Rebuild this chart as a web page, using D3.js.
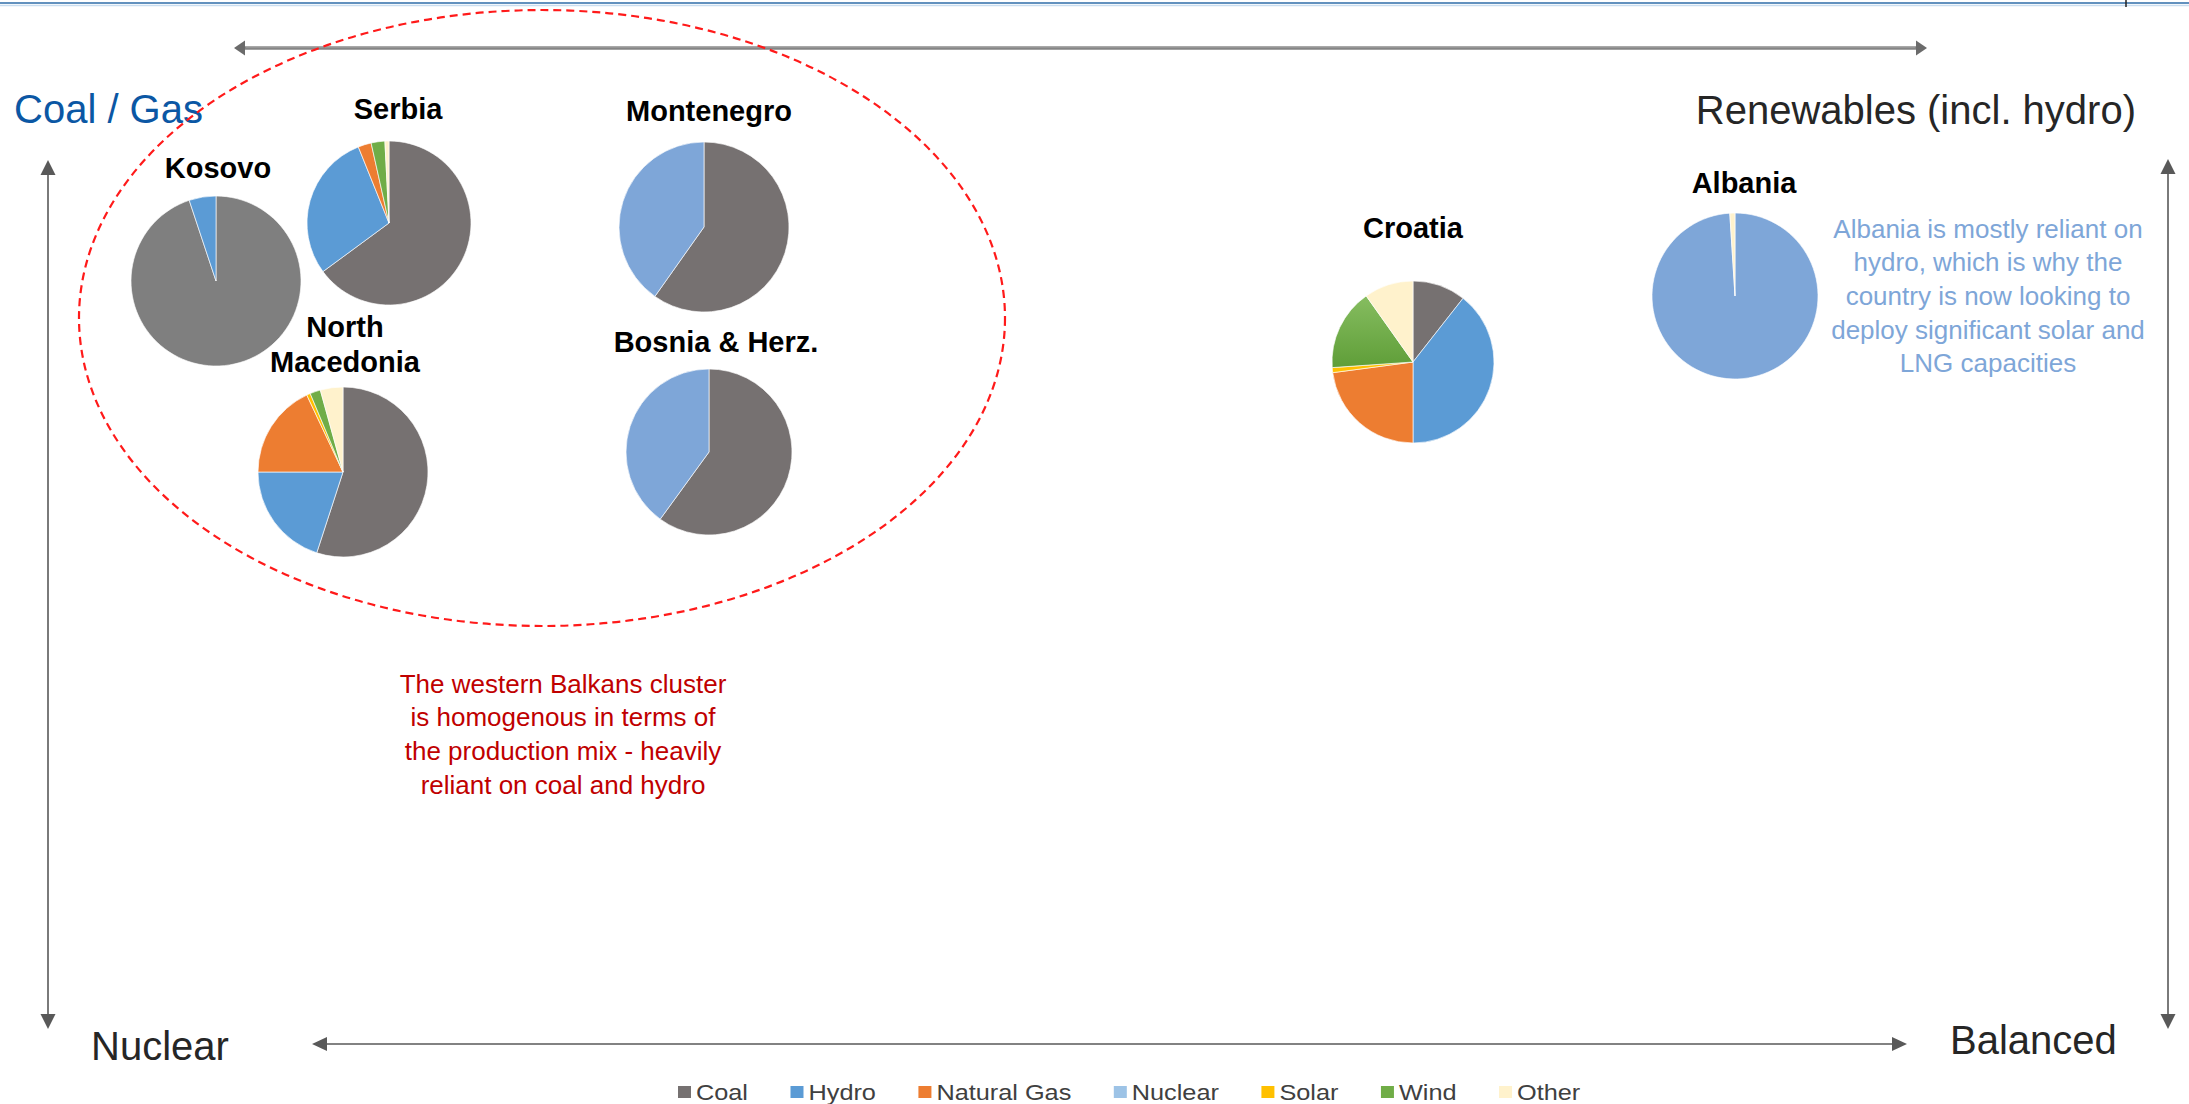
<!DOCTYPE html>
<html>
<head>
<meta charset="utf-8">
<title>Western Balkans power production mix</title>
<script src="https://cdn.jsdelivr.net/npm/d3@7"></script>
<style>
  html, body { margin: 0; padding: 0; background: #ffffff; }
  svg { display: block; }
  text { font-family: "Liberation Sans", Arial, Helvetica, sans-serif; }
</style>
</head>
<body>
<svg id="chart" width="2189" height="1104"></svg>
<script>
// ---- Data: production mix shares (%) by fuel, one array per country ----
const fuels = ["Coal", "Hydro", "Natural Gas", "Nuclear", "Solar", "Wind", "Other"];
const countries = ["Kosovo", "Serbia", "North Macedonia", "Montenegro", "Bosnia & Herz.", "Croatia", "Albania"];

const kosovoMix     = [94.9,  5.1,  0,   0, 0,   0,    0  ];
const serbiaMix     = [64.9, 29.0,  2.6, 0, 0,   2.7,  0.8];
const macedoniaMix  = [55.0, 20.0, 18.0, 0, 0.7, 2.0,  4.3];
const montenegroMix = [59.8, 40.2,  0,   0, 0,   0,    0  ];
const bosniaMix     = [60.0, 40.0,  0,   0, 0,   0,    0  ];
const croatiaMix    = [10.6, 39.4, 22.9, 0, 1.0, 16.3, 9.8];
const albaniaMix    = [ 0,   99.0,  0,   0, 0,   0,    1.0];

const mixes = [kosovoMix, serbiaMix, macedoniaMix, montenegroMix, bosniaMix, croatiaMix, albaniaMix];

// ---- Annotation texts ----
const clusterNote = [
  "The western Balkans cluster",
  "is homogenous in terms of",
  "the production mix - heavily",
  "reliant on coal and hydro"
];
const albaniaNote = [
  "Albania is mostly reliant on",
  "hydro, which is why the",
  "country is now looking to",
  "deploy significant solar and",
  "LNG capacities"
];

// ---- Layout and styling ----
const W = 2189, H = 1104;
const svg = d3.select("#chart");

const fuelColor = d3.scaleOrdinal()
  .domain(fuels)
  .range(["#767171", "#5b9bd5", "#ed7d31", "#9dc3e6", "#ffc000", "#70ad47", "#fff2cc"]);

// shade tweaks used on some of the pies
const shadeOverride = {
  "Kosovo": { "Coal": "#7f7f7f" },
  "Montenegro": { "Hydro": "#7ea6d8" },
  "Bosnia & Herz.": { "Hydro": "#7ea6d8" },
  "Albania": { "Hydro": "#7ea6d8" },
  "Croatia": { "Wind": "url(#windGrad)" }
};

// pie centres / radii and title placement (px)
const pieLayout = {
  "Kosovo":          { cx: 216,  cy: 281, r: 85, title: ["Kosovo"],             tx: 218,  ty: 178 },
  "Serbia":          { cx: 389,  cy: 223, r: 82, title: ["Serbia"],             tx: 398,  ty: 119 },
  "North Macedonia": { cx: 343,  cy: 472, r: 85, title: ["North", "Macedonia"], tx: 345,  ty: 337 },
  "Montenegro":      { cx: 704,  cy: 227, r: 85, title: ["Montenegro"],         tx: 709,  ty: 121 },
  "Bosnia & Herz.":  { cx: 709,  cy: 452, r: 83, title: ["Bosnia & Herz."],     tx: 716,  ty: 352 },
  "Croatia":         { cx: 1413, cy: 362, r: 81, title: ["Croatia"],            tx: 1413, ty: 238 },
  "Albania":         { cx: 1735, cy: 296, r: 83, title: ["Albania"],            tx: 1744, ty: 193 }
};

const defs = svg.append("defs");
const wg = defs.append("linearGradient").attr("id", "windGrad")
  .attr("x1", 0).attr("y1", 0).attr("x2", 0).attr("y2", 1);
wg.append("stop").attr("offset", "0%").attr("stop-color", "#86bd60");
wg.append("stop").attr("offset", "100%").attr("stop-color", "#5f9e38");

// ---- Header rule ----
svg.append("line").attr("x1", 0).attr("x2", W).attr("y1", 3).attr("y2", 3)
  .attr("stroke", "#2e6da9").attr("stroke-width", 1.6);
svg.append("line").attr("x1", 0).attr("x2", W).attr("y1", 5.5).attr("y2", 5.5)
  .attr("stroke", "#c9ddf0").attr("stroke-width", 1.5);
svg.append("line").attr("x1", 2126).attr("x2", 2126).attr("y1", 0).attr("y2", 7)
  .attr("stroke", "#222").attr("stroke-width", 1.5);

// ---- Arrows ----
function arrowHead(g, x, y, angle, len, wid, fill) {
  // triangle pointing in direction `angle` (degrees) with tip at (x,y)
  g.append("path")
    .attr("d", `M0,0 L${-len},${-wid / 2} L${-len},${wid / 2} Z`)
    .attr("transform", `translate(${x},${y}) rotate(${angle})`)
    .attr("fill", fill);
}
function doubleArrow(x1, y1, x2, y2, opts) {
  const g = svg.append("g");
  const ang = Math.atan2(y2 - y1, x2 - x1) * 180 / Math.PI;
  const dx = Math.cos(ang * Math.PI / 180), dy = Math.sin(ang * Math.PI / 180);
  g.append("line")
    .attr("x1", x1 + dx * opts.len * 0.8).attr("y1", y1 + dy * opts.len * 0.8)
    .attr("x2", x2 - dx * opts.len * 0.8).attr("y2", y2 - dy * opts.len * 0.8)
    .attr("stroke", opts.stroke).attr("stroke-width", opts.width);
  arrowHead(g, x2, y2, ang, opts.len, opts.wid, opts.head);
  arrowHead(g, x1, y1, ang + 180, opts.len, opts.wid, opts.head);
  return g;
}

// top axis (Coal / Gas <-> Renewables)
doubleArrow(234, 48, 1927, 48, { stroke: "#858585", width: 3.4, head: "#6b6b6b", len: 11, wid: 15 });
svg.append("line").attr("x1", 246).attr("x2", 1915).attr("y1", 47).attr("y2", 47)
  .attr("stroke", "#b0b0b0").attr("stroke-width", 0.8);
// bottom axis (Nuclear <-> Balanced)
doubleArrow(312, 1044, 1907, 1044, { stroke: "#595959", width: 1.6, head: "#595959", len: 15, wid: 14 });
// left / right vertical axes
doubleArrow(48, 160, 48, 1029, { stroke: "#595959", width: 1.6, head: "#595959", len: 15, wid: 15 });
doubleArrow(2168, 159, 2168, 1029, { stroke: "#595959", width: 1.6, head: "#595959", len: 15, wid: 15 });

// ---- Corner labels ----
svg.append("text").attr("x", 14).attr("y", 123).attr("font-size", 40)
  .attr("fill", "#0b57a4").text("Coal / Gas");
svg.append("text").attr("x", 2136).attr("y", 124).attr("font-size", 40)
  .attr("text-anchor", "end").attr("fill", "#262626").text("Renewables (incl. hydro)");
svg.append("text").attr("x", 91).attr("y", 1060).attr("font-size", 40)
  .attr("fill", "#262626").text("Nuclear");
svg.append("text").attr("x", 1950).attr("y", 1054).attr("font-size", 40)
  .attr("fill", "#262626").text("Balanced");

// ---- Western Balkans cluster outline ----
svg.append("ellipse")
  .attr("cx", 542).attr("cy", 318).attr("rx", 463).attr("ry", 308)
  .attr("fill", "none").attr("stroke", "#ff1a1a").attr("stroke-width", 2.2)
  .attr("stroke-dasharray", "8,5");

// ---- Pies ----
const pie = d3.pie().sort(null).value(d => d.value);

countries.forEach((country, i) => {
  const lay = pieLayout[country];
  const data = fuels.map((f, k) => ({ fuel: f, value: mixes[i][k] })).filter(d => d.value > 0);
  const arc = d3.arc().innerRadius(0).outerRadius(lay.r);
  const g = svg.append("g").attr("transform", `translate(${lay.cx},${lay.cy})`);
  g.selectAll("path").data(pie(data)).join("path")
    .attr("d", arc)
    .attr("fill", d => (shadeOverride[country] && shadeOverride[country][d.data.fuel]) || fuelColor(d.data.fuel))
    .attr("stroke", "#ffffff").attr("stroke-width", 0.8).attr("stroke-opacity", 0.8);

  const t = svg.append("text")
    .attr("x", lay.tx).attr("y", lay.ty)
    .attr("text-anchor", "middle").attr("font-size", 29).attr("font-weight", "bold")
    .attr("fill", "#000");
  lay.title.forEach((line, j) => {
    t.append("tspan").attr("x", lay.tx).attr("dy", j === 0 ? 0 : 35).text(line);
  });
});

// ---- Notes ----
const note1 = svg.append("text").attr("text-anchor", "middle").attr("font-size", 26).attr("fill", "#c00000");
clusterNote.forEach((line, j) => {
  note1.append("tspan").attr("x", 563).attr("y", 692.5 + j * 33.8).text(line);
});
const note2 = svg.append("text").attr("text-anchor", "middle").attr("font-size", 26).attr("fill", "#7ea6d8");
albaniaNote.forEach((line, j) => {
  note2.append("tspan").attr("x", 1988).attr("y", 237.5 + j * 33.7).text(line);
});

// ---- Legend ----
const legend = svg.append("g");
let lx = 678;
fuels.forEach(f => {
  legend.append("rect").attr("x", lx).attr("y", 1086).attr("width", 13).attr("height", 12)
    .attr("fill", fuelColor(f));
  const tx = lx + 18;
  const t = legend.append("text")
    .attr("transform", `translate(${tx},1099.5) scale(1.15,1)`)
    .attr("font-size", 22).attr("fill", "#404040").text(f);
  const w = t.node().getComputedTextLength() * 1.15;
  lx = tx + w + 42.5;
});
</script>
</body>
</html>
